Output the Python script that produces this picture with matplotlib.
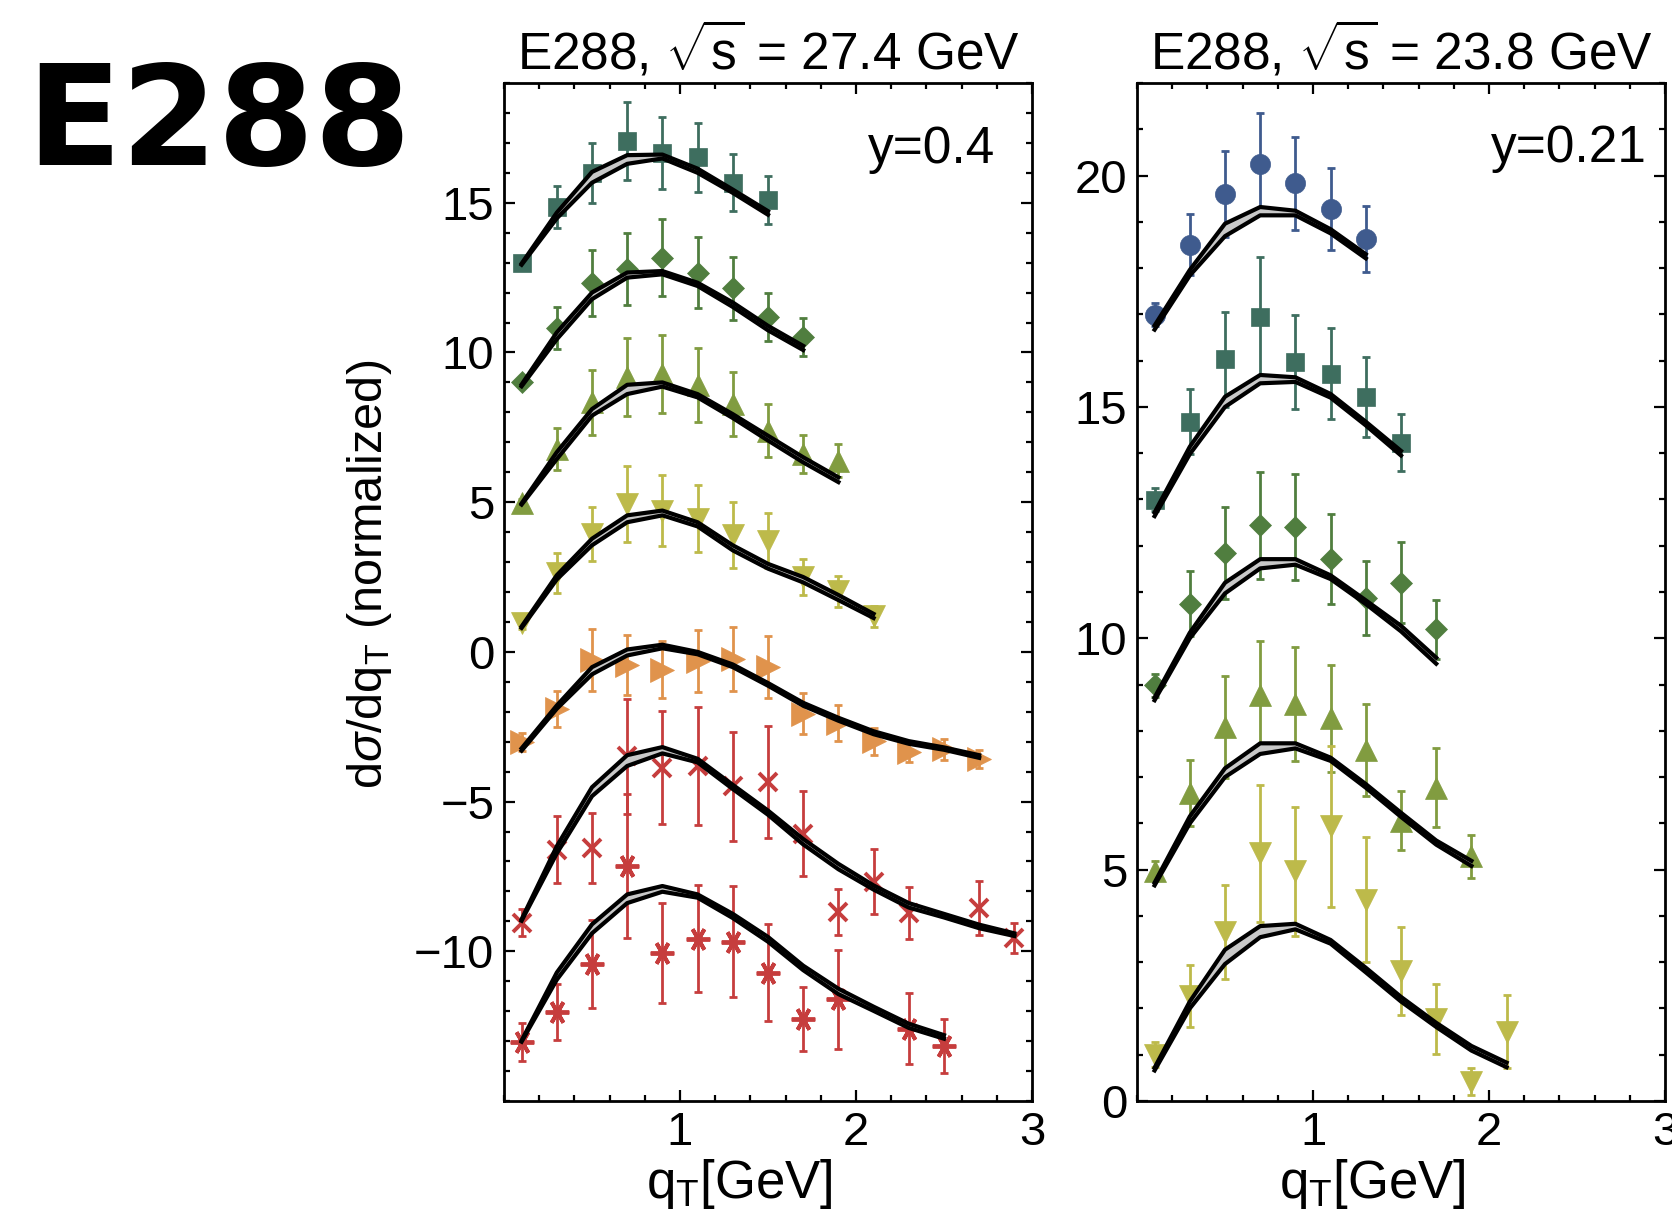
import matplotlib.pyplot as plt
from matplotlib.ticker import MultipleLocator

plt.rcParams['font.family'] = ['Liberation Sans', 'DejaVu Sans']
plt.rcParams['mathtext.fontset'] = 'custom'
plt.rcParams['mathtext.rm'] = 'Liberation Sans'
plt.rcParams['mathtext.it'] = 'Liberation Sans:italic'
plt.rcParams['mathtext.bf'] = 'Liberation Sans:bold'

# ---- sqrt(s) = 27.4 GeV, y = 0.4 (curves shifted vertically) ----
qt_a1 = [0.1, 0.3, 0.5, 0.7, 0.9, 1.1, 1.3, 1.5]
val_a1 = [13.0, 14.86, 16.0, 17.06, 16.67, 16.52, 15.67, 15.08]
err_a1 = [0.15, 0.7, 1.0, 1.3, 1.2, 1.15, 0.95, 0.8]
hi_a1 = [12.97, 14.67, 16.03, 16.59, 16.61, 16.14, 15.44, 14.72]
lo_a1 = [12.93, 14.48, 15.67, 16.30, 16.48, 16.00, 15.33, 14.60]

qt_a2 = [0.1, 0.3, 0.5, 0.7, 0.9, 1.1, 1.3, 1.5, 1.7]
val_a2 = [9.0, 10.81, 12.33, 12.8, 13.17, 12.67, 12.14, 11.17, 10.52]
err_a2 = [0.15, 0.7, 1.1, 1.2, 1.3, 1.18, 1.05, 0.8, 0.63]
hi_a2 = [8.93, 10.67, 12.0, 12.67, 12.72, 12.33, 11.67, 10.89, 10.22]
lo_a2 = [8.87, 10.44, 11.78, 12.5, 12.61, 12.22, 11.52, 10.74, 10.08]

qt_a3 = [0.1, 0.3, 0.5, 0.7, 0.9, 1.1, 1.3, 1.5, 1.7, 1.9]
val_a3 = [4.97, 6.78, 8.33, 9.17, 9.28, 8.92, 8.28, 7.39, 6.61, 6.39]
err_a3 = [0.15, 0.7, 1.1, 1.3, 1.3, 1.23, 1.08, 0.88, 0.63, 0.55]
hi_a3 = [4.96, 6.67, 8.11, 8.92, 9.0, 8.61, 7.94, 7.22, 6.5, 5.83]
lo_a3 = [4.92, 6.44, 7.89, 8.61, 8.86, 8.5, 7.81, 7.06, 6.33, 5.67]

qt_a4 = [0.1, 0.3, 0.5, 0.7, 0.9, 1.1, 1.3, 1.5, 1.7, 1.9, 2.1]
val_a4 = [0.98, 2.63, 3.94, 4.94, 4.72, 4.44, 3.89, 3.72, 2.5, 2.02, 1.19]
err_a4 = [0.2, 0.67, 0.9, 1.28, 1.19, 1.12, 1.1, 0.92, 0.6, 0.53, 0.35]
hi_a4 = [0.85, 2.56, 3.78, 4.56, 4.72, 4.33, 3.56, 2.94, 2.5, 1.9, 1.27]
lo_a4 = [0.8, 2.42, 3.56, 4.33, 4.56, 4.19, 3.39, 2.78, 2.32, 1.73, 1.13]

qt_a5 = [0.1, 0.3, 0.5, 0.7, 0.9, 1.1, 1.3, 1.5, 1.7, 1.9, 2.1, 2.3, 2.5, 2.7]
val_a5 = [-3.0, -1.9, -0.27, -0.44, -0.6, -0.3, -0.24, -0.51, -2.06, -2.38, -2.98, -3.33, -3.25, -3.57]
err_a5 = [0.3, 0.6, 1.05, 1.0, 0.95, 1.04, 1.07, 1.03, 0.69, 0.6, 0.45, 0.36, 0.35, 0.3]
hi_a5 = [-3.22, -1.79, -0.51, 0.08, 0.24, 0.0, -0.42, -1.04, -1.7, -2.2, -2.65, -2.98, -3.19, -3.45]
lo_a5 = [-3.3, -1.9, -0.75, -0.12, 0.12, -0.08, -0.51, -1.13, -1.8, -2.3, -2.75, -3.07, -3.27, -3.54]

qt_a6 = [0.1, 0.3, 0.5, 0.7, 0.9, 1.1, 1.3, 1.5, 1.7, 1.9, 2.1, 2.3, 2.7, 2.9]
val_a6 = [-9.05, -6.61, -6.55, -3.49, -3.87, -3.81, -4.49, -4.35, -6.07, -8.69, -7.68, -8.72, -8.56, -9.55]
err_a6 = [0.45, 1.12, 1.17, 1.92, 1.89, 1.98, 1.82, 1.86, 1.43, 0.77, 1.09, 0.88, 0.9, 0.5]
qt_th_a6 = [0.1, 0.3, 0.5, 0.7, 0.9, 1.1, 1.3, 1.5, 1.7, 1.9, 2.1, 2.3, 2.5, 2.7, 2.9]
hi_a6 = [-8.93, -6.49, -4.52, -3.45, -3.18, -3.57, -4.44, -5.3, -6.25, -7.08, -7.8, -8.39, -8.75, -9.11, -9.4]
lo_a6 = [-8.98, -6.73, -4.82, -3.81, -3.39, -3.69, -4.58, -5.44, -6.43, -7.26, -7.94, -8.54, -8.87, -9.23, -9.49]

qt_a7 = [0.1, 0.3, 0.5, 0.7, 0.9, 1.1, 1.3, 1.5, 1.7, 1.9, 2.3, 2.5]
val_a7 = [-13.04, -12.02, -10.44, -7.14, -10.06, -9.58, -9.68, -10.71, -12.26, -11.6, -12.58, -13.17]
err_a7 = [0.64, 0.93, 1.47, 2.4, 1.68, 1.79, 1.85, 1.61, 1.07, 1.65, 1.18, 0.9]
qt_th_a7 = [0.1, 0.3, 0.5, 0.7, 0.9, 1.1, 1.3, 1.5, 1.7, 1.9, 2.1, 2.3, 2.5]
hi_a7 = [-12.98, -10.71, -9.1, -8.1, -7.82, -8.1, -8.75, -9.52, -10.48, -11.25, -11.85, -12.42, -12.8]
lo_a7 = [-13.02, -10.95, -9.4, -8.39, -8.01, -8.21, -8.89, -9.68, -10.63, -11.43, -11.99, -12.56, -12.92]

# ---- sqrt(s) = 23.8 GeV, y = 0.21 ----
qt_b1 = [0.1, 0.3, 0.5, 0.7, 0.9, 1.1, 1.3]
val_b1 = [16.99, 18.5, 19.6, 20.25, 19.83, 19.28, 18.63]
err_b1 = [0.25, 0.66, 0.93, 1.1, 1.0, 0.88, 0.72]
hi_b1 = [16.76, 17.96, 18.96, 19.32, 19.24, 18.84, 18.3]
lo_b1 = [16.67, 17.84, 18.69, 19.14, 19.14, 18.75, 18.21]

qt_b2 = [0.1, 0.3, 0.5, 0.7, 0.9, 1.1, 1.3, 1.5]
val_b2 = [12.99, 14.68, 16.03, 16.95, 15.97, 15.72, 15.22, 14.23]
err_b2 = [0.25, 0.7, 1.03, 1.28, 1.02, 0.99, 0.86, 0.62]
hi_b2 = [12.72, 14.14, 15.22, 15.69, 15.64, 15.28, 14.68, 14.05]
lo_b2 = [12.64, 13.98, 15.0, 15.51, 15.54, 15.2, 14.6, 13.95]

qt_b3 = [0.1, 0.3, 0.5, 0.7, 0.9, 1.1, 1.3, 1.5, 1.7]
val_b3 = [8.98, 10.75, 11.84, 12.44, 12.4, 11.71, 10.86, 11.2, 10.19]
err_b3 = [0.25, 0.7, 1.0, 1.16, 1.14, 0.98, 0.8, 0.88, 0.63]
hi_b3 = [8.72, 10.12, 11.2, 11.71, 11.71, 11.36, 10.82, 10.27, 9.58]
lo_b3 = [8.66, 10.0, 10.97, 11.51, 11.59, 11.28, 10.74, 10.15, 9.45]

qt_b4 = [0.1, 0.3, 0.5, 0.7, 0.9, 1.1, 1.3, 1.5, 1.7, 1.9]
val_b4 = [4.98, 6.65, 8.09, 8.78, 8.58, 8.27, 7.58, 6.06, 6.77, 5.29]
err_b4 = [0.2, 0.71, 1.1, 1.17, 1.23, 1.15, 0.99, 0.63, 0.85, 0.46]
hi_b4 = [4.72, 6.15, 7.19, 7.73, 7.73, 7.42, 6.85, 6.23, 5.63, 5.19]
lo_b4 = [4.66, 6.0, 7.0, 7.5, 7.62, 7.35, 6.77, 6.14, 5.54, 5.08]

qt_b5 = [0.1, 0.3, 0.5, 0.7, 0.9, 1.1, 1.3, 1.5, 1.7, 1.9, 2.1]
val_b5 = [1.0, 2.27, 3.65, 5.35, 4.96, 5.94, 4.35, 2.81, 1.77, 0.42, 1.5]
err_b5 = [0.27, 0.66, 1.02, 1.48, 1.4, 1.74, 1.35, 0.95, 0.76, 0.29, 0.78]
hi_b5 = [0.72, 2.15, 3.27, 3.78, 3.83, 3.48, 2.88, 2.25, 1.69, 1.19, 0.83]
lo_b5 = [0.66, 2.0, 2.96, 3.54, 3.71, 3.4, 2.78, 2.15, 1.6, 1.09, 0.73]

# marker colours
teal, green, olive, yellow = '#3e6e5f', '#507e3f', '#819c40', '#bdba4a'
orange, red, blue = '#e0934c', '#c63d3d', '#3f5b8e'
ASTERISK = (6, 2, 90)


def draw_series(ax, qt, val, err, qt_th, hi, lo, color, marker, ms):
    ax.errorbar(qt, val, yerr=err, fmt='none', ecolor=color, elinewidth=2.0,
                capsize=3.2, capthick=2.0, zorder=2)
    if marker in ('x', ASTERISK):
        ax.plot(qt, val, linestyle='none', marker=marker, ms=ms, color=color,
                mew=2.8, zorder=2)
    else:
        ax.plot(qt, val, linestyle='none', marker=marker, ms=ms, color=color,
                mec=color, mew=0.5, zorder=2)
    # theory band: two black boundary lines with a grey fill
    ax.fill_between(qt_th, lo, hi, color='#c8c8c8', lw=0, zorder=3)
    ax.plot(qt_th, hi, color='black', lw=3.0, zorder=4)
    ax.plot(qt_th, lo, color='black', lw=3.0, zorder=4)


def style_axes(ax, ylim, yticks):
    ax.set_xlim(0, 3)
    ax.set_ylim(*ylim)
    ax.set_xticks([1, 2, 3])
    ax.set_yticks(yticks)
    ax.xaxis.set_minor_locator(MultipleLocator(0.2))
    ax.yaxis.set_minor_locator(MultipleLocator(1))
    ax.tick_params(which='both', direction='in', top=True, right=True,
                   width=1.6, labelsize=34)
    ax.tick_params(which='major', length=8, pad=7)
    ax.tick_params(which='minor', length=4)
    for sp in ax.spines.values():
        sp.set_linewidth(2.0)


fig = plt.figure(figsize=(16.72, 12.19), dpi=100)
ax1 = fig.add_axes([504 / 1672, 1 - 1101 / 1219, 528 / 1672, 1018 / 1219])
ax2 = fig.add_axes([1137 / 1672, 1 - 1101 / 1219, 528 / 1672, 1018 / 1219])

draw_series(ax1, qt_a1, val_a1, err_a1, qt_a1, hi_a1, lo_a1, teal, 's', 12.5)
draw_series(ax1, qt_a2, val_a2, err_a2, qt_a2, hi_a2, lo_a2, green, 'D', 11.5)
draw_series(ax1, qt_a3, val_a3, err_a3, qt_a3, hi_a3, lo_a3, olive, '^', 16)
draw_series(ax1, qt_a4, val_a4, err_a4, qt_a4, hi_a4, lo_a4, yellow, 'v', 16)
draw_series(ax1, qt_a5, val_a5, err_a5, qt_a5, hi_a5, lo_a5, orange, '>', 17)
draw_series(ax1, qt_a6, val_a6, err_a6, qt_th_a6, hi_a6, lo_a6, red, 'x', 13)
draw_series(ax1, qt_a7, val_a7, err_a7, qt_th_a7, hi_a7, lo_a7, red, ASTERISK, 17)

draw_series(ax2, qt_b1, val_b1, err_b1, qt_b1, hi_b1, lo_b1, blue, 'o', 14.5)
draw_series(ax2, qt_b2, val_b2, err_b2, qt_b2, hi_b2, lo_b2, teal, 's', 12.5)
draw_series(ax2, qt_b3, val_b3, err_b3, qt_b3, hi_b3, lo_b3, green, 'D', 11.5)
draw_series(ax2, qt_b4, val_b4, err_b4, qt_b4, hi_b4, lo_b4, olive, '^', 16)
draw_series(ax2, qt_b5, val_b5, err_b5, qt_b5, hi_b5, lo_b5, yellow, 'v', 16)

style_axes(ax1, (-15, 19), [-10, -5, 0, 5, 10, 15])
style_axes(ax2, (0, 22), [0, 5, 10, 15, 20])

ax1.set_title(r'E288, $\sqrt{\mathrm{s}}$ = 27.4 GeV', fontsize=37, pad=10)
ax2.set_title(r'E288, $\sqrt{\mathrm{s}}$ = 23.8 GeV', fontsize=37, pad=10)

ax1.text(0.93, 0.921, 'y=0.4', transform=ax1.transAxes, ha='right',
         va='baseline', fontsize=37)
ax2.text(0.966, 0.922, 'y=0.21', transform=ax2.transAxes, ha='right',
         va='baseline', fontsize=37)

for ax in (ax1, ax2):
    ax.text(0.445, -0.082, r'q$_{\mathrm{T}}$[GeV]', transform=ax.transAxes,
            ha='center', va='center', fontsize=38)

fig.text(369 / 1672, 1 - 574 / 1219, r'd$\sigma$/dq$_{\mathrm{T}}$ (normalized)',
         rotation=90, ha='center', va='center', fontsize=35)

fig.text(26 / 1672, 1 - 165 / 1219, 'E288', family='DejaVu Sans',
         fontweight='bold', fontsize=100, va='baseline', ha='left')

fig.savefig('out.png', dpi=100)
